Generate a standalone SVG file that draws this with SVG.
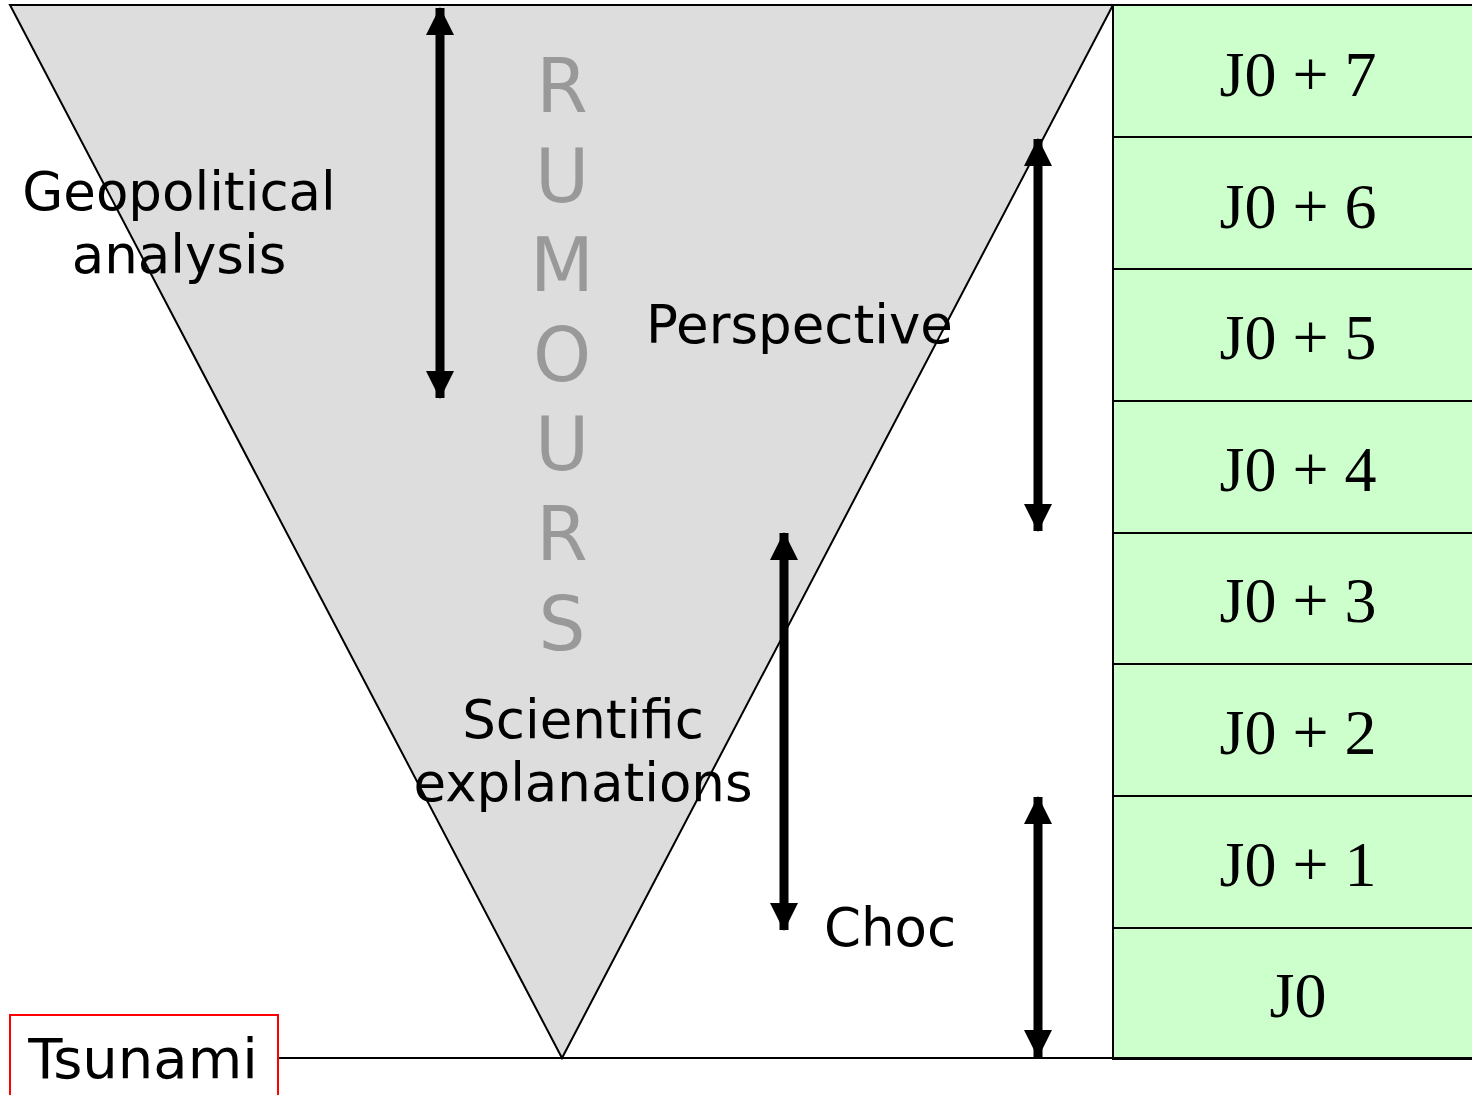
<svg xmlns="http://www.w3.org/2000/svg" width="1472" height="1095" viewBox="0 0 1472 1095">
<defs>
<style>
.lbl{font-family:"DejaVu Sans",Verdana,sans-serif;font-size:53px;fill:#000}
.rum{font-family:"DejaVu Sans",Verdana,sans-serif;font-size:74px;fill:#999;text-anchor:middle}
.day{font-family:"Liberation Serif","Times New Roman",serif;font-size:64px;fill:#000;text-anchor:middle}
.cell{fill:#ccffcc;stroke:#000;stroke-width:2}
.arr{stroke:#000;stroke-width:9;fill:none}
</style>
<marker id="ah" viewBox="0 0 28 28" refX="27" refY="14" markerWidth="28" markerHeight="28" markerUnits="userSpaceOnUse" orient="auto-start-reverse">
<path d="M0,0 L28,14 L0,28 Z" fill="#000"/>
</marker>
</defs>
<rect width="1472" height="1095" fill="#fff"/>
<g id="funnel">
<polygon points="10,5 1113,5 562,1058" fill="#dddddd" stroke="#000" stroke-width="2"/>
</g>
<g id="timeline">
<rect class="cell" x="1113" y="5" width="362" height="132"/>
<rect class="cell" x="1113" y="137" width="362" height="132"/>
<rect class="cell" x="1113" y="269" width="362" height="132"/>
<rect class="cell" x="1113" y="401" width="362" height="132"/>
<rect class="cell" x="1113" y="533" width="362" height="131"/>
<rect class="cell" x="1113" y="664" width="362" height="132"/>
<rect class="cell" x="1113" y="796" width="362" height="132"/>
<rect class="cell" x="1113" y="928" width="362" height="131"/>
<text class="day" x="1298" y="96">J0 + 7</text>
<text class="day" x="1298" y="228">J0 + 6</text>
<text class="day" x="1298" y="359">J0 + 5</text>
<text class="day" x="1298" y="491">J0 + 4</text>
<text class="day" x="1298" y="622">J0 + 3</text>
<text class="day" x="1298" y="754">J0 + 2</text>
<text class="day" x="1298" y="886">J0 + 1</text>
<text class="day" x="1298" y="1017">J0</text>
</g>
<g id="connectors">
<line x1="10" y1="5" x2="1472" y2="5" stroke="#000" stroke-width="2"/>
<line x1="278" y1="1058" x2="1472" y2="1058" stroke="#000" stroke-width="2"/>
<line class="arr" x1="440" y1="8" x2="440" y2="398" marker-start="url(#ah)" marker-end="url(#ah)"/>
<line class="arr" x1="1038" y1="139" x2="1038" y2="531" marker-start="url(#ah)" marker-end="url(#ah)"/>
<line class="arr" x1="784" y1="533" x2="784" y2="930" marker-start="url(#ah)" marker-end="url(#ah)"/>
<line class="arr" x1="1038" y1="797" x2="1038" y2="1057" marker-start="url(#ah)" marker-end="url(#ah)"/>
</g>
<g id="rumours">
<text class="rum" x="562" y="112">R</text>
<text class="rum" x="562" y="202">U</text>
<text class="rum" x="562" y="291">M</text>
<text class="rum" x="562" y="381">O</text>
<text class="rum" x="562" y="470">U</text>
<text class="rum" x="562" y="560">R</text>
<text class="rum" x="562" y="650">S</text>
</g>
<g id="geopolitical">
<text class="lbl" x="179" y="210" text-anchor="middle">Geopolitical</text>
<text class="lbl" x="179" y="273" text-anchor="middle">analysis</text>
</g>
<g id="perspective">
<text class="lbl" x="646" y="343">Perspective</text>
</g>
<g id="scientific">
<text class="lbl" x="583" y="738" text-anchor="middle">Scientific</text>
<text class="lbl" x="583" y="801" text-anchor="middle">explanations</text>
</g>
<g id="choc">
<text class="lbl" x="824" y="946">Choc</text>
</g>
<g id="tsunami">
<rect x="10" y="1015" width="268" height="90" fill="#fff" stroke="#ff0000" stroke-width="2"/>
<text class="lbl" x="143" y="1078" text-anchor="middle" style="font-size:56px">Tsunami</text>
</g>
</svg>
